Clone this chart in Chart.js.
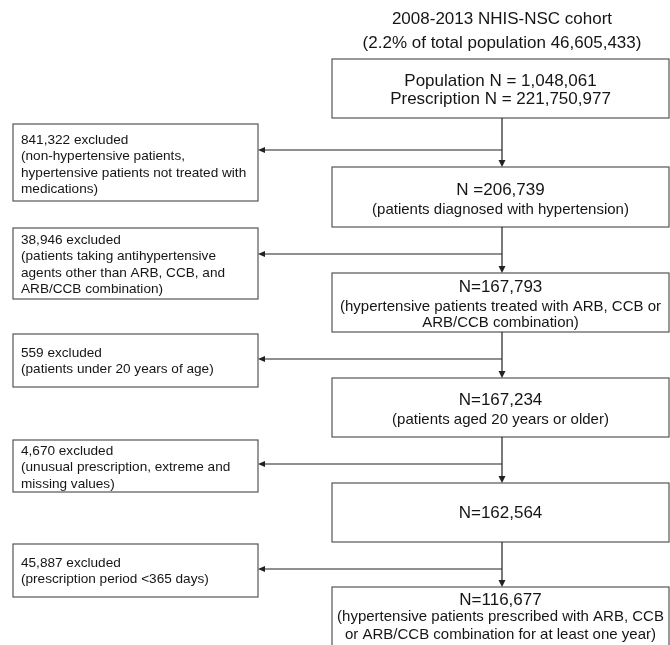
<!DOCTYPE html>
<html>
<head>
<meta charset="utf-8">
<script src="https://cdn.jsdelivr.net/npm/chart.js@4"></script>
<style>
  html, body { margin: 0; padding: 0; background: #fff; }
  #flow { display: block; }
</style>
</head>
<body>
<canvas id="flow" width="670" height="645"></canvas>
<script>
// Cohort text
const titleLines = ['2008-2013 NHIS-NSC cohort', '(2.2% of total population 46,605,433)'];

const stepHeads = [
    ['Population N = 1,048,061', 'Prescription N = 221,750,977'],
    ['N =206,739'],
    ['N=167,793'],
    ['N=167,234'],
    ['N=162,564'],
    ['N=116,677']
];
const stepNotes = [
    [],
    ['(patients diagnosed with hypertension)'],
    ['(hypertensive patients treated with ARB, CCB or', 'ARB/CCB combination)'],
    ['(patients aged 20 years or older)'],
    [],
    ['(hypertensive patients prescribed with ARB, CCB', 'or ARB/CCB combination for at least one year)']
];

const excludedCounts = ['841,322 excluded', '38,946 excluded', '559 excluded', '4,670 excluded', '45,887 excluded'];
const excludedNotes = [
    ['(non-hypertensive patients,', 'hypertensive patients not treated with', 'medications)'],
    ['(patients taking antihypertensive', 'agents other than ARB, CCB, and', 'ARB/CCB combination)'],
    ['(patients under 20 years of age)'],
    ['(unusual prescription, extreme and', 'missing values)'],
    ['(prescription period <365 days)']
];

// Layout (in the 670 x 645 frame used by both scales)
const stemX = 502;
const mainBox = { left: 332, right: 669 };
const sideBox = { left: 13, right: 258, textX: 21 };
const mainTops = [59, 167, 273, 378, 483, 587];
const mainBottoms = [118, 227, 332, 437, 542, 660];
const mainLineYs = [[81, 99], [190, 210], [287, 307, 323], [400, 420], [513], [600, 617, 635]];
const sideTops = [124, 228, 334, 440, 544];
const sideBottoms = [201, 299, 387, 492, 597];
const sideFirstY = [140, 240, 353, 451, 563];
const branchYs = [150, 254, 359, 464, 569];
const titleYs = [19, 43];

const FONT = '"Liberation Sans", Arial, Helvetica, sans-serif';
const INK = '#151515';
const EDGE = '#555555';
const WIRE = '#222222';

const flowPlugin = {
    id: 'flow',
    afterDraw(chart) {
        const ctx = chart.ctx;
        const xs = chart.scales.x, ys = chart.scales.y;
        const X = v => xs.getPixelForValue(v);
        const Y = v => ys.getPixelForValue(v);

        ctx.save();
        ctx.lineWidth = 1.2;

        const rect = (l, t, r, b) => {
            ctx.strokeStyle = EDGE;
            ctx.strokeRect(X(l), Y(t), X(r) - X(l), Y(b) - Y(t));
        };
        const headDown = (x, y) => {
            ctx.beginPath();
            ctx.moveTo(X(x), Y(y));
            ctx.lineTo(X(x) - 3.5, Y(y) - 7);
            ctx.lineTo(X(x) + 3.5, Y(y) - 7);
            ctx.closePath();
            ctx.fillStyle = WIRE;
            ctx.fill();
        };
        const headLeft = (x, y) => {
            ctx.beginPath();
            ctx.moveTo(X(x), Y(y));
            ctx.lineTo(X(x) + 7, Y(y) - 3);
            ctx.lineTo(X(x) + 7, Y(y) + 3);
            ctx.closePath();
            ctx.fillStyle = WIRE;
            ctx.fill();
        };

        // title
        ctx.fillStyle = INK;
        ctx.textAlign = 'center';
        ctx.textBaseline = 'middle';
        ctx.font = '17px ' + FONT;
        titleLines.forEach((t, i) => ctx.fillText(t, X(stemX), Y(titleYs[i])));

        // main boxes
        const cx = (mainBox.left + mainBox.right) / 2;
        stepHeads.forEach((heads, i) => {
            rect(mainBox.left, mainTops[i], mainBox.right, mainBottoms[i]);
            const lines = heads.map(h => [h, 17]).concat(stepNotes[i].map(n => [n, 15]));
            ctx.fillStyle = INK;
            lines.forEach(([t, size], j) => {
                ctx.font = size + 'px ' + FONT;
                ctx.fillText(t, X(cx), Y(mainLineYs[i][j]));
            });
        });

        // stems between main boxes
        ctx.strokeStyle = WIRE;
        for (let i = 0; i < mainTops.length - 1; i++) {
            ctx.beginPath();
            ctx.moveTo(X(stemX), Y(mainBottoms[i]));
            ctx.lineTo(X(stemX), Y(mainTops[i + 1]) - 6);
            ctx.stroke();
            headDown(stemX, mainTops[i + 1]);
        }

        // exclusion boxes and branches
        ctx.textAlign = 'left';
        excludedCounts.forEach((c, i) => {
            rect(sideBox.left, sideTops[i], sideBox.right, sideBottoms[i]);
            ctx.strokeStyle = WIRE;
            ctx.beginPath();
            ctx.moveTo(X(stemX), Y(branchYs[i]));
            ctx.lineTo(X(sideBox.right) + 6, Y(branchYs[i]));
            ctx.stroke();
            headLeft(sideBox.right, branchYs[i]);
            ctx.fillStyle = INK;
            ctx.font = '13.6px ' + FONT;
            [c].concat(excludedNotes[i]).forEach((t, j) => {
                ctx.fillText(t, X(sideBox.textX), Y(sideFirstY[i] + j * 16.5));
            });
        });
        ctx.restore();
    }
};

new Chart(document.getElementById('flow').getContext('2d'), {
    type: 'scatter',
    data: { datasets: [{ data: [], showLine: false }] },
    options: {
        responsive: false,
        animation: false,
        layout: { padding: 0 },
        plugins: { legend: { display: false }, tooltip: { enabled: false } },
        scales: {
            x: { type: 'linear', min: 0, max: 670, display: false },
            y: { type: 'linear', min: 0, max: 645, reverse: true, display: false }
        }
    },
    plugins: [flowPlugin]
});
</script>
</body>
</html>
